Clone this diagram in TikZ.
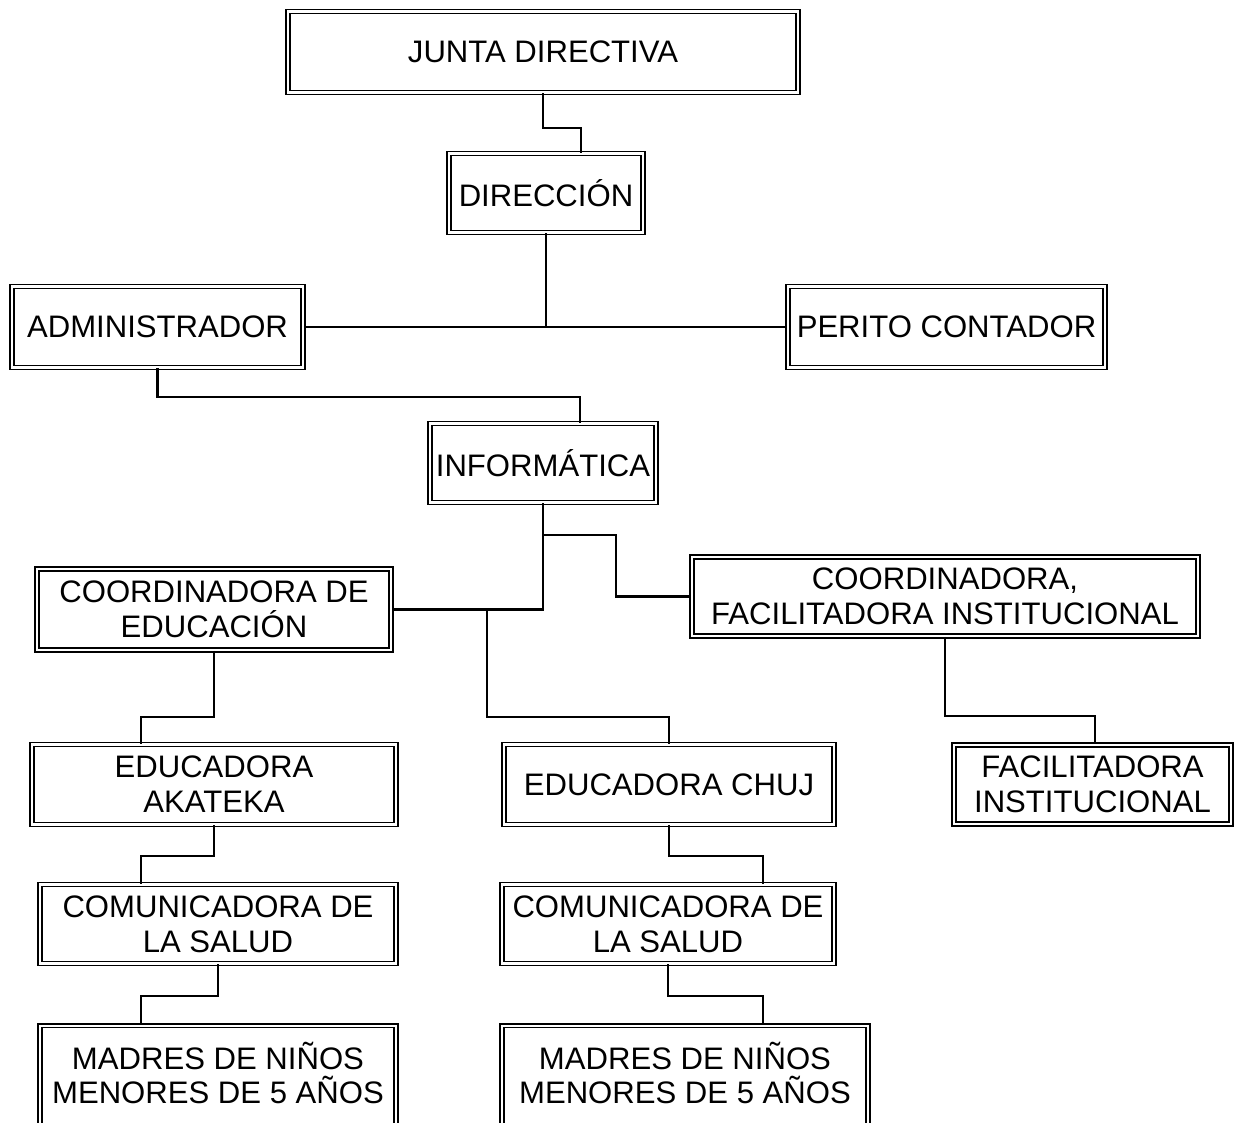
\documentclass[tikz,border=0pt]{standalone}
\usepackage{fontspec}
\setmainfont{Liberation Sans}
\usetikzlibrary{positioning}
\tikzset{
    box/.style = {draw,double,double distance=1.2pt,line width=0.9pt,align=center,inner sep=0,
        font=\fontsize{17.7}{19.9}\selectfont},
    boxsize/.style 2 args = {minimum width=#1*0.02cm,minimum height=#2*0.02cm},
    cutbox/.style = {box,anchor=north,text height=44.5pt,text depth=23.8pt},
    link/.style = {line width=1.2pt}
}
\begin{document}
\begin{tikzpicture}[x=0.02cm,y=-0.02cm]
    \useasboundingbox (0,0) rectangle (1245,1123);
    \clip (0,0) rectangle (1245,1123);
    % Top
    \node[box,boxsize={510}{81}] (jd) at (543,52) {JUNTA DIRECTIVA};
    \node[box,boxsize={194}{79}] (dir) at (546,193) {DIRECCIÓN};
    \node[box,boxsize={291}{81}] (adm) at (157.5,327) {ADMINISTRADOR};
    \node[box,boxsize={317}{81}] (per) at (946.5,327) {PERITO CONTADOR};
    \node[box,boxsize={226}{79}] (inf) at (543,463) {INFORMÁTICA};
    % Coordinators
    \node[box,boxsize={354}{81}] (ced) at (214,609.5) {COORDINADORA DE\\EDUCACIÓN};
    \node[box,boxsize={506}{79}] (cfi) at (945,596.5) {COORDINADORA,\\FACILITADORA INSTITUCIONAL};
    % Educators
    \node[box,boxsize={364}{80}] (eak) at (214,784.5) {EDUCADORA\\AKATEKA};
    \node[box,boxsize={330}{80}] (ech) at (669,784.5) {EDUCADORA CHUJ};
    \node[box,boxsize={277}{79}] (fin) at (1092.5,784.5) {FACILITADORA\\INSTITUCIONAL};
    % Health
    \node[box,boxsize={356}{79}] (cs1) at (218,924) {COMUNICADORA DE\\LA SALUD};
    \node[box,boxsize={332}{79}] (cs2) at (668,924) {COMUNICADORA DE\\LA SALUD};
    % Mothers (cut by the page edge)
    \node[cutbox,boxsize={356}{0}] (md1) at (218,1025) {MADRES DE NIÑOS\\MENORES DE 5 AÑOS};
    \node[cutbox,boxsize={366}{0}] (md2) at (685,1025) {MADRES DE NIÑOS\\MENORES DE 5 AÑOS};
    % Links
    \foreach \src/\dest/\xx/\yy in {jd/dir/581/128,adm/inf/580/397,cfi/fin/1095/716,
        ced/eak/141/717,eak/cs1/141/856,cs1/md1/141/996,ech/cs2/763/856,cs2/md2/763/996}
        \draw[link] (\src.south) |- (\xx,\yy) -- (\dest.north -| \xx,0);
    \draw[link] (adm.east) -- (per.west);
    \draw[link] (dir.south) -- (dir.south |- adm.east);
    \draw[link] (inf.south) |- (ced.east);
    \draw[link] (inf.south |- 0,535) -| (cfi.west -| 616,0) -- (cfi.west);
    \draw[link] (487,0 |- ced.east) |- (ech.north |- 0,717) -- (ech.north);
\end{tikzpicture}
\end{document}
